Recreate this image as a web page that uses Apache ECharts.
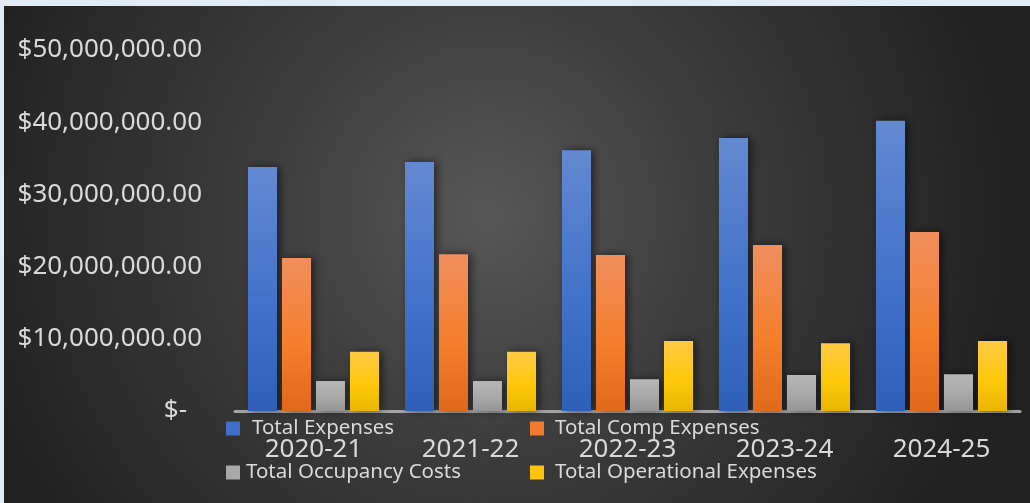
<!DOCTYPE html>
<html>
<head>
<meta charset="utf-8">
<script src="https://cdn.jsdelivr.net/npm/echarts@6/dist/echarts.min.js"></script>
<style>
html,body{margin:0;padding:0;background:#e3ebf5;}
#chart{width:1030px;height:503px;}
</style>
</head>
<body>
<div id="chart"></div>
<script>
const categories = ['2020-21', '2021-22', '2022-23', '2023-24', '2024-25'];
const seriesNames = ['Total Expenses', 'Total Comp Expenses', 'Total Occupancy Costs', 'Total Operational Expenses'];
const totalExpenses = [33800000, 34500000, 36100000, 37800000, 40200000];
const totalComp = [21200000, 21700000, 21600000, 23000000, 24800000];
const totalOccupancy = [4150000, 4150000, 4400000, 5000000, 5100000];
const totalOperational = [8200000, 8200000, 9700000, 9400000, 9700000];
const yTickLabels = ['$-', '$10,000,000.00', '$20,000,000.00', '$30,000,000.00', '$40,000,000.00', '$50,000,000.00'];

const FONT = 'Noto Sans';
const chart = echarts.init(document.getElementById('chart'), null, {renderer: 'canvas'});

function grad(top, mid, bottom) {
  return new echarts.graphic.LinearGradient(0, 0, 0, 1, [
    {offset: 0, color: top}, {offset: 0.55, color: mid}, {offset: 1, color: bottom}
  ]);
}
const colors = [
  grad('#6389d1', '#4272c9', '#2f60b7'),
  grad('#f18e5e', '#f47f2c', '#e0691b'),
  grad('#b7b7b7', '#a8a8a8', '#959595'),
  grad('#ffc945', '#ffc80a', '#e8b600')
];
const iconColors = ['#3f6fc6', '#f07a2e', '#a8a8a8', '#fdc30f'];
const dataSets = [totalExpenses, totalComp, totalOccupancy, totalOperational];

function legendAt(i, left, top, pad) {
  return {
    data: [{name: seriesNames[i], itemStyle: {color: iconColors[i]}}],
    left: left, top: top, padding: 0,
    itemWidth: 14, itemHeight: 14, icon: 'rect',
    selectedMode: false,
    textStyle: {color: '#d9d9d9', fontSize: 20.5, fontFamily: FONT, padding: [0, 0, 0, pad]}
  };
}

const option = {
  backgroundColor: '#e3ebf5',
  animation: false,
  graphic: [{
    type: 'rect', z: -10, silent: true,
    shape: {x: 4, y: 6, width: 1026, height: 497},
    style: {
      fill: new echarts.graphic.RadialGradient(0.47, 0.42, 1.05, [
        {offset: 0, color: '#575757'},
        {offset: 0.45, color: '#3c3c3c'},
        {offset: 1, color: '#222222'}
      ])
    }
  }],
  legend: [
    legendAt(0, 226, 418, 7),
    legendAt(1, 530, 418, 6),
    legendAt(2, 226, 462, 1),
    legendAt(3, 530, 462, 6)
  ],
  grid: {left: 235, right: 10, top: 50, bottom: 92, containLabel: false},
  xAxis: {
    type: 'category',
    data: categories,
    axisLine: {show: true, lineStyle: {color: '#a3a3a3', width: 3}},
    axisTick: {show: false},
    axisLabel: {color: '#d9d9d9', fontSize: 26, fontFamily: FONT, margin: 25, lineHeight: 28}
  },
  yAxis: {
    type: 'value', min: 0, max: 50000000, interval: 10000000,
    axisLine: {show: false}, axisTick: {show: false}, splitLine: {show: false},
    axisLabel: {
      color: '#d9d9d9', fontSize: 26, fontFamily: FONT, margin: 33,
      formatter: function (v) {
        const idx = Math.round(v / 10000000);
        return idx === 0 ? '{z|' + yTickLabels[0] + '}' : yTickLabels[idx];
      },
      rich: {z: {color: '#d9d9d9', fontSize: 26, fontFamily: FONT, padding: [0, 15, 0, 0]}}
    }
  },
  series: dataSets.map(function (d, i) {
    return {
      name: seriesNames[i], type: 'bar', data: d,
      barGap: '17%', barCategoryGap: '16.5%',
      itemStyle: {
        color: colors[i],
        shadowColor: 'rgba(0,0,0,0.55)', shadowBlur: 8, shadowOffsetX: 3, shadowOffsetY: 0
      }
    };
  })
};
chart.setOption(option);
</script>
</body>
</html>
